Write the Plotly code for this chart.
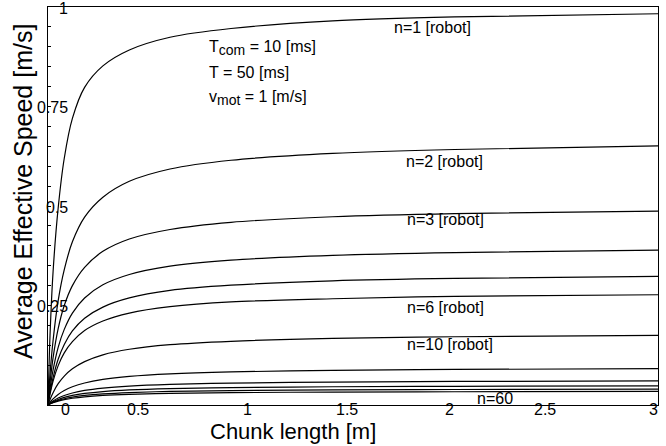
import plotly.graph_objects as go

# ---------------- data ----------------
chunk_length = [0, 0.01, 0.025, 0.05, 0.08, 0.12, 0.18, 0.27, 0.4, 0.6, 0.9, 1.4, 2.0, 3.0]

speed_n1 = [0, 0.175, 0.335, 0.495, 0.620, 0.720, 0.798, 0.852, 0.892, 0.924, 0.946, 0.965, 0.975, 0.983]
speed_n2 = [0, 0.078, 0.162, 0.262, 0.340, 0.410, 0.472, 0.522, 0.562, 0.593, 0.615, 0.632, 0.642, 0.651]
speed_n3 = [0, 0.056, 0.119, 0.192, 0.250, 0.300, 0.346, 0.386, 0.417, 0.441, 0.459, 0.473, 0.481, 0.487]
speed_n4 = [0, 0.041, 0.088, 0.145, 0.190, 0.231, 0.269, 0.302, 0.328, 0.349, 0.364, 0.376, 0.383, 0.389]
speed_n5 = [0, 0.032, 0.069, 0.115, 0.152, 0.186, 0.218, 0.246, 0.269, 0.288, 0.301, 0.312, 0.318, 0.323]
speed_n6 = [0, 0.027, 0.060, 0.099, 0.131, 0.159, 0.187, 0.211, 0.231, 0.247, 0.259, 0.267, 0.273, 0.277]
speed_n10 = [0, 0.014, 0.031, 0.0535, 0.0727, 0.0909, 0.109, 0.126, 0.140, 0.1515, 0.160, 0.1675, 0.1715, 0.1748]
speed_n20 = [0, 0.0068, 0.0153, 0.0265, 0.0363, 0.0457, 0.0553, 0.0643, 0.0719, 0.0783, 0.0832, 0.0871, 0.0894, 0.0912]
speed_n30 = [0, 0.0045, 0.0101, 0.0175, 0.0240, 0.0302, 0.0366, 0.0425, 0.0476, 0.0518, 0.0551, 0.0576, 0.0592, 0.0604]
speed_n40 = [0, 0.0036, 0.0081, 0.0139, 0.0191, 0.0240, 0.0290, 0.0338, 0.0378, 0.0411, 0.0437, 0.0458, 0.0470, 0.0479]
speed_n50 = [0, 0.0030, 0.0067, 0.0115, 0.0158, 0.0199, 0.0241, 0.0280, 0.0313, 0.0341, 0.0363, 0.0380, 0.0390, 0.0398]
speed_n60 = [0, 0.0025, 0.0057, 0.0099, 0.0135, 0.0170, 0.0206, 0.0240, 0.0268, 0.0292, 0.0310, 0.0325, 0.0333, 0.0340]

robot_counts = [1, 2, 3, 4, 5, 6, 10, 20, 30, 40, 50, 60]
series = [speed_n1, speed_n2, speed_n3, speed_n4, speed_n5, speed_n6,
          speed_n10, speed_n20, speed_n30, speed_n40, speed_n50, speed_n60]

x_tick_values = [0, 0.5, 1, 1.5, 2, 2.5, 3]
x_tick_labels = ["0", "0.5", "1", "1.5", "2", "2.5", "3"]
y_tick_values = [0.25, 0.5, 0.75, 1]
y_tick_labels = ["0.25", "0.5", "0.75", "1"]

curve_labels = ["n=1 [robot]", "n=2 [robot]", "n=3 [robot]", "n=6 [robot]", "n=10 [robot]", "n=60"]
curve_label_x = [1.89, 1.948, 1.953, 1.953, 1.977, 2.2]
curve_label_y = [0.948, 0.611, 0.465, 0.246, 0.153, 0.0176]

param_lines = ["T<sub><span style='font-size:14px'>com</span></sub> = 10 [ms]",
               "T = 50 [ms]",
               "v<sub><span style='font-size:14px'>mot</span></sub> = 1 [m/s]"]

# ---------------- style ----------------
FONT = "Liberation Sans, Arial, Helvetica, sans-serif"
x_label_shift = [17, -12, -4, -6, -5, -11, -5]

W, H = 666, 446
L, R, T, B = 48, 8, 7, 41
pw, ph = W - L - R, H - T - B

fig = go.Figure()
for n, ys in zip(robot_counts, series):
    fig.add_trace(go.Scatter(
        x=chunk_length, y=ys, mode="lines", name=f"n={n}",
        line=dict(color="black", width=1.2, shape="spline", smoothing=0.9),
        showlegend=False, hoverinfo="skip"))

annotations = []
for v, t, dx in zip(x_tick_values, x_tick_labels, x_label_shift):
    annotations.append(dict(x=v, y=0, xref="x", yref="y", text=t, showarrow=False,
                            xanchor="center", yanchor="middle", xshift=dx, yshift=-4,
                            font=dict(family=FONT, size=16, color="black")))
for v, t in zip(y_tick_values, y_tick_labels):
    annotations.append(dict(x=0, y=v, xref="x", yref="y", text=t, showarrow=False,
                            xanchor="right", yanchor="middle", xshift=22, yshift=-1,
                            font=dict(family=FONT, size=16, color="black")))
for t, lx, ly in zip(curve_labels, curve_label_x, curve_label_y):
    annotations.append(dict(x=lx, y=ly, xref="x", yref="y", text=t, showarrow=False,
                            xanchor="center", yanchor="middle",
                            font=dict(family=FONT, size=16, color="black")))
param_y = [0.898, 0.835, 0.772]
for t, py in zip(param_lines, param_y):
    annotations.append(dict(x=0.78, y=py, xref="x", yref="y", text=t, showarrow=False,
                            xanchor="left", yanchor="middle",
                            font=dict(family=FONT, size=16, color="black")))

# axis titles placed by pixel position -> paper coordinates
title_specs = [("Chunk length [m]", 293, 431, 0, 22), ("Average Effective Speed [m/s]", 23, 192, -90, 25)]
for text, px, py, ang, fs in title_specs:
    annotations.append(dict(x=(px - L) / pw, y=(H - B - py) / ph, xref="paper", yref="paper",
                            text=text, showarrow=False, textangle=ang,
                            xanchor="center", yanchor="middle",
                            font=dict(family=FONT, size=fs, color="black")))

fig.update_layout(
    width=W, height=H,
    margin=dict(l=L, r=R, t=T, b=B),
    paper_bgcolor="white", plot_bgcolor="white",
    annotations=annotations,
    xaxis=dict(range=[0, 3], showgrid=False, zeroline=False, showline=True, mirror=True,
               linecolor="black", linewidth=1, ticks="", showticklabels=False),
    yaxis=dict(range=[0, 1], showgrid=False, zeroline=False, showline=True, mirror=True,
               linecolor="black", linewidth=1, ticks="inside", ticklen=3, tickcolor="black",
               tickvals=[i * 0.05 for i in range(1, 20)], showticklabels=False),
)

fig.write_html("out.html", config={"displayModeBar": False},
               post_script="document.body.style.margin='0';document.body.style.overflow='hidden';")
